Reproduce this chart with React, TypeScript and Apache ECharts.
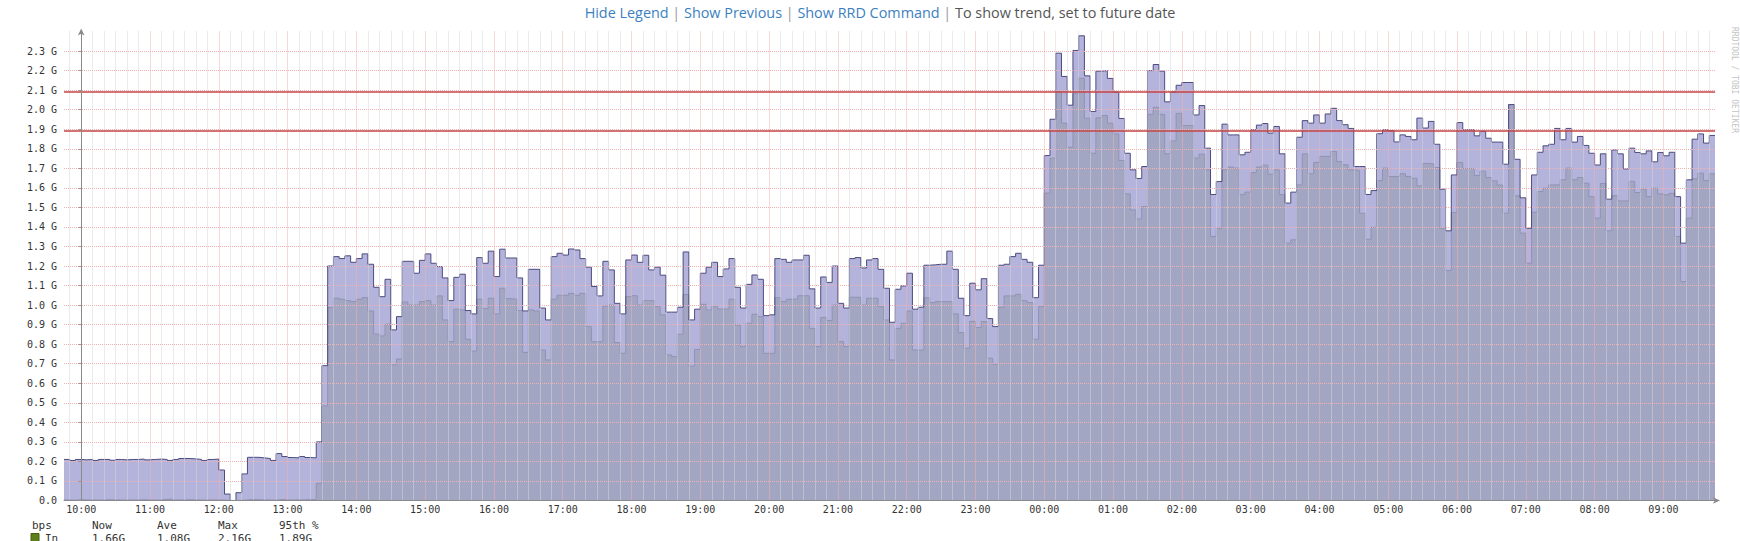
import React, { useEffect, useRef } from 'react';
import * as echarts from 'echarts';

// x values are minutes relative to 10:00 of the first day
const windowStart = -15;
const windowEnd = 1425;
const stepMinutes = 5;

const hourLabels = [
  '10:00', '11:00', '12:00', '13:00', '14:00', '15:00', '16:00', '17:00', '18:00', '19:00',
  '20:00', '21:00', '22:00', '23:00', '00:00', '01:00', '02:00', '03:00', '04:00', '05:00',
  '06:00', '07:00', '08:00', '09:00',
];

// Out traffic (G bps), one value per 5 minutes from 09:45
const outBps = [
  0.21, 0.205, 0.21, 0.208, 0.21, 0.205, 0.21, 0.21, 0.206, 0.21,
  0.208, 0.21, 0.21, 0.212, 0.208, 0.21, 0.212, 0.21, 0.205, 0.21,
  0.215, 0.215, 0.213, 0.21, 0.205, 0.21, 0.212, 0.156, 0.033, 0.0,
  0.04, 0.136, 0.221, 0.221, 0.218, 0.215, 0.205, 0.24, 0.225, 0.22,
  0.218, 0.225, 0.22, 0.218, 0.30, 0.69, 1.20, 1.248, 1.238, 1.252,
  1.219, 1.238, 1.262, 1.209, 1.091, 1.043, 1.132, 0.873, 0.941, 1.224,
  1.224, 1.163, 1.229, 1.262, 1.214, 1.197, 1.139, 1.023, 1.142, 1.158,
  0.972, 0.955, 1.243, 1.214, 1.276, 1.146, 1.286, 1.241, 1.241, 1.139,
  0.970, 1.183, 1.183, 0.985, 0.924, 1.248, 1.265, 1.256, 1.287, 1.282,
  1.238, 1.194, 1.095, 1.047, 1.224, 1.180, 1.009, 0.955, 1.231, 1.256,
  1.219, 1.255, 1.180, 1.194, 1.153, 0.964, 0.964, 0.989, 1.272, 0.924,
  0.979, 1.163, 1.194, 1.219, 1.146, 1.185, 1.238, 1.091, 0.985, 1.106,
  1.154, 1.132, 0.946, 0.950, 1.238, 1.234, 1.219, 1.231, 1.231, 1.255,
  1.083, 0.985, 1.144, 1.116, 1.200, 1.009, 0.985, 1.238, 1.243, 1.190,
  1.231, 1.238, 1.183, 1.086, 0.912, 1.081, 1.098, 1.163, 0.979, 0.989,
  1.204, 1.206, 1.209, 1.209, 1.276, 1.183, 1.035, 0.946, 1.112, 1.078,
  1.135, 0.931, 0.890, 1.204, 1.209, 1.248, 1.265, 1.234, 1.219, 1.038,
  1.204, 1.765, 1.951, 2.289, 2.170, 2.023, 2.303, 2.378, 2.173, 1.991,
  2.197, 2.200, 2.160, 2.090, 1.955, 1.777, 1.692, 1.648, 1.709, 2.200,
  2.231, 2.197, 2.040, 2.091, 2.125, 2.139, 2.139, 1.973, 2.021, 1.803,
  1.566, 1.632, 1.926, 1.871, 1.871, 1.769, 1.782, 1.897, 1.921, 1.929,
  1.880, 1.914, 1.774, 1.522, 1.578, 1.859, 1.944, 1.931, 1.973, 1.931,
  1.978, 2.007, 1.944, 1.923, 1.904, 1.709, 1.709, 1.566, 1.586, 1.877,
  1.897, 1.892, 1.835, 1.871, 1.863, 1.846, 1.957, 1.906, 1.940, 1.823,
  1.593, 1.380, 1.666, 1.934, 1.897, 1.897, 1.866, 1.888, 1.854, 1.834,
  1.834, 1.721, 2.026, 1.746, 1.549, 1.393, 1.666, 1.782, 1.815, 1.823,
  1.904, 1.846, 1.904, 1.834, 1.863, 1.817, 1.777, 1.717, 1.774, 1.542,
  1.794, 1.774, 1.697, 1.803, 1.781, 1.774, 1.789, 1.733, 1.781, 1.764,
  1.782, 1.555, 1.317, 1.641, 1.849, 1.876, 1.829, 1.868,
];

// In traffic (G bps), one value per 5 minutes from 09:45
const inBps = [
  0.003, 0.002, 0.004, 0.003, 0.003, 0.002, 0.003, 0.004, 0.003, 0.003,
  0.002, 0.003, 0.003, 0.004, 0.003, 0.002, 0.003, 0.006, 0.007, 0.003,
  0.003, 0.004, 0.003, 0.003, 0.002, 0.003, 0.003, 0.002, 0.001, 0.0,
  0.001, 0.003, 0.006, 0.004, 0.003, 0.003, 0.002, 0.005, 0.003, 0.003,
  0.004, 0.003, 0.006, 0.004, 0.088, 0.484, 0.987, 1.035, 1.030, 1.023,
  1.018, 1.030, 1.038, 0.970, 0.852, 0.842, 0.902, 0.694, 0.724, 1.016,
  1.000, 1.000, 1.018, 1.023, 1.000, 1.047, 0.924, 0.813, 0.979, 0.975,
  0.825, 0.765, 1.030, 0.982, 1.035, 0.955, 1.086, 1.033, 1.030, 0.972,
  0.758, 0.975, 0.970, 0.770, 0.719, 1.030, 1.050, 1.050, 1.060, 1.050,
  1.060, 0.890, 0.813, 0.813, 0.995, 1.000, 0.808, 0.753, 1.043, 1.048,
  1.000, 1.023, 1.023, 0.992, 0.950, 0.745, 0.736, 0.851, 1.054, 0.688,
  0.773, 1.004, 0.975, 0.992, 0.980, 0.980, 1.030, 0.898, 0.788, 0.907,
  0.953, 0.941, 0.753, 0.753, 1.038, 1.018, 1.030, 1.030, 1.048, 1.048,
  0.881, 0.788, 0.937, 0.921, 1.000, 0.813, 0.788, 1.040, 1.040, 1.000,
  1.035, 1.035, 0.992, 0.924, 0.719, 0.881, 0.907, 0.970, 0.770, 0.770,
  1.038, 1.013, 1.018, 1.018, 1.018, 0.955, 0.859, 0.779, 0.917, 0.885,
  0.916, 0.728, 0.697, 0.989, 1.047, 1.047, 1.055, 1.023, 1.013, 0.825,
  0.992, 1.573, 1.752, 2.093, 1.931, 1.808, 2.081, 2.161, 1.956, 1.777,
  1.958, 1.970, 1.931, 1.876, 1.740, 1.569, 1.487, 1.441, 1.504, 1.976,
  2.012, 1.976, 1.774, 1.840, 1.981, 1.919, 1.919, 1.752, 1.772, 1.692,
  1.351, 1.393, 1.692, 1.706, 1.701, 1.565, 1.578, 1.678, 1.706, 1.716,
  1.670, 1.692, 1.565, 1.317, 1.334, 1.615, 1.774, 1.672, 1.730, 1.761,
  1.761, 1.786, 1.735, 1.718, 1.692, 1.689, 1.470, 1.337, 1.398, 1.637,
  1.701, 1.658, 1.658, 1.672, 1.658, 1.649, 1.610, 1.725, 1.722, 1.704,
  1.393, 1.177, 1.473, 1.730, 1.699, 1.699, 1.663, 1.685, 1.653, 1.636,
  1.614, 1.470, 2.026, 1.559, 1.368, 1.214, 1.475, 1.581, 1.598, 1.615,
  1.615, 1.641, 1.701, 1.641, 1.653, 1.624, 1.555, 1.445, 1.622, 1.380,
  1.560, 1.533, 1.533, 1.633, 1.576, 1.593, 1.555, 1.598, 1.569, 1.564,
  1.572, 1.351, 1.120, 1.445, 1.646, 1.675, 1.637, 1.672,
];

// 95th percentile rules (Out, In)
const percentileRules = [2.09, 1.89];

const legendHeader = ['bps', 'Now', 'Ave', 'Max', '95th %'];
const inStats = ['1.66G', '1.08G', '2.16G', '1.89G'];
const headerLinks = ['Hide Legend', 'Show Previous', 'Show RRD Command'];
const headerNote = 'To show trend, set to future date';
const watermark = 'RRDTOOL / TOBI OETIKER';

const mono = 'DejaVu Sans Mono';

// Grid line colours for the 5-minute x ticks, starting at 09:45:
// none, 10-min (grey), none, hour (red), none, 10-min, none, 10-min, none, 10-min, none, 10-min
const NONE = 'rgba(0,0,0,0)';
const HOUR = '#f3b0b0';
const TEN = '#d6d6d6';
const xGridCycle = [NONE, TEN, NONE, HOUR, NONE, TEN, NONE, TEN, NONE, TEN, NONE, TEN];

function toSteps(values: number[]): number[][] {
  const pts = values.map((v, i) => [windowStart + i * stepMinutes, v]);
  pts.push([windowEnd, values[values.length - 1]]);
  return pts;
}

export default function App() {
  const ref = useRef<HTMLDivElement>(null);

  useEffect(() => {
    if (!ref.current) return;
    const chart = echarts.init(ref.current, null, { renderer: 'svg' });
    const outData = toSteps(outBps);
    const inData = toSteps(inBps);

    const headerText =
      headerLinks.map((t) => `{l|${t}}`).join('{s| | }') + '{s| | }' + `{t|${headerNote}}`;

    const legendCols = [32, 92, 157, 218, 279];
    const hf = 14.4;

    const graphics: any[] = [
      {
        type: 'text',
        x: 880,
        y: 12,
        silent: true,
        style: {
          text: headerText,
          align: 'center',
          verticalAlign: 'middle',
          fontFamily: 'Open Sans',
          fontSize: hf,
          rich: {
            l: { fill: '#3b7fc1', fontFamily: 'Open Sans', fontSize: hf },
            s: { fill: '#999999', fontFamily: 'Open Sans', fontSize: hf },
            t: { fill: '#555555', fontFamily: 'Open Sans', fontSize: hf },
          },
        },
      },
      {
        type: 'text',
        x: 1734,
        y: 27,
        rotation: -Math.PI / 2,
        silent: true,
        style: {
          text: watermark,
          fill: '#c4c4c4',
          fontFamily: mono,
          fontSize: 8,
          align: 'left',
          verticalAlign: 'middle',
        },
      },
    ];
    legendHeader.forEach((t, i) => {
      graphics.push({
        type: 'text',
        x: legendCols[i],
        y: 525,
        silent: true,
        style: { text: t, fill: '#333', fontFamily: mono, fontSize: 11, verticalAlign: 'middle' },
      });
    });
    graphics.push({
      type: 'rect',
      shape: { x: 31, y: 533.5, width: 8, height: 8 },
      silent: true,
      style: { fill: '#5e7f1c', stroke: '#44600f', lineWidth: 1 },
    });
    graphics.push({
      type: 'text',
      x: 45,
      y: 538,
      silent: true,
      style: { text: 'In', fill: '#333', fontFamily: mono, fontSize: 11, verticalAlign: 'middle' },
    });
    inStats.forEach((t, i) => {
      graphics.push({
        type: 'text',
        x: legendCols[i + 1],
        y: 538,
        silent: true,
        style: { text: t, fill: '#333', fontFamily: mono, fontSize: 11, verticalAlign: 'middle' },
      });
    });

    const option: any = {
      animation: false,
      backgroundColor: '#ffffff',
      grid: { left: 64, right: 25, top: 31.5, bottom: 40.5, containLabel: false },
      xAxis: {
        type: 'value',
        min: windowStart,
        max: windowEnd,
        interval: stepMinutes,
        z: 5,
        axisLine: {
          show: true,
          lineStyle: { color: '#8a8a8a', width: 1 },
          symbol: ['none', 'arrow'],
          symbolSize: [5, 7],
          symbolOffset: [0, 5],
        },
        axisTick: { show: false },
        axisLabel: {
          formatter: (v: number) => {
            const r = Math.round(v);
            return r % 60 === 0 && r >= 0 ? hourLabels[r / 60] ?? '' : '';
          },
          showMinLabel: false,
          showMaxLabel: false,
          fontFamily: mono,
          fontSize: 10,
          color: '#333',
          margin: 4,
        },
        splitLine: {
          show: true,
          lineStyle: { color: xGridCycle, type: 'dotted', width: 1 },
        },
      },
      yAxis: {
        type: 'value',
        min: 0,
        max: 2.4,
        interval: 0.1,
        z: 5,
        axisLine: {
          show: true,
          lineStyle: { color: '#8a8a8a', width: 1 },
          symbol: ['none', 'arrow'],
          symbolSize: [5, 7],
          symbolOffset: [0, 3],
        },
        axisTick: { show: true, length: 3, lineStyle: { color: '#999' } },
        axisLabel: {
          formatter: (v: number) => (v === 0 ? '0.0' : v.toFixed(1) + ' G'),
          showMaxLabel: false,
          fontFamily: mono,
          fontSize: 10,
          color: '#333',
          margin: 7,
        },
        splitLine: {
          show: true,
          showMinLine: false,
          showMaxLine: false,
          lineStyle: { color: HOUR, type: 'dotted', width: 1 },
        },
      },
      series: [
        {
          name: 'Out',
          type: 'line',
          step: 'end',
          data: outData,
          symbol: 'none',
          silent: true,
          lineStyle: { width: 0, opacity: 0 },
          areaStyle: { color: '#b4b3dc', opacity: 1 },
          z: 2,
        },
        {
          name: 'In',
          type: 'line',
          step: 'end',
          data: inData,
          symbol: 'none',
          silent: true,
          lineStyle: { width: 1, color: '#9093b2' },
          areaStyle: { color: '#a3a6c3', opacity: 1 },
          z: 2,
        },
        {
          name: 'Out line',
          type: 'line',
          step: 'end',
          data: outData,
          symbol: 'none',
          silent: true,
          lineStyle: { width: 1, color: '#4c4c80' },
          z: 2,
          markLine: {
            silent: true,
            symbol: 'none',
            label: { show: false },
            lineStyle: { color: '#c64444', width: 1.5, type: 'solid' },
            data: percentileRules.map((v) => ({ yAxis: v })),
          },
        },
      ],
      graphic: graphics,
    };

    chart.setOption(option);
    return () => chart.dispose();
  }, []);

  return (
    <div
      ref={ref}
      style={{ position: 'absolute', left: 0, top: 0, width: 1740, height: 541, background: '#fff' }}
    />
  );
}
